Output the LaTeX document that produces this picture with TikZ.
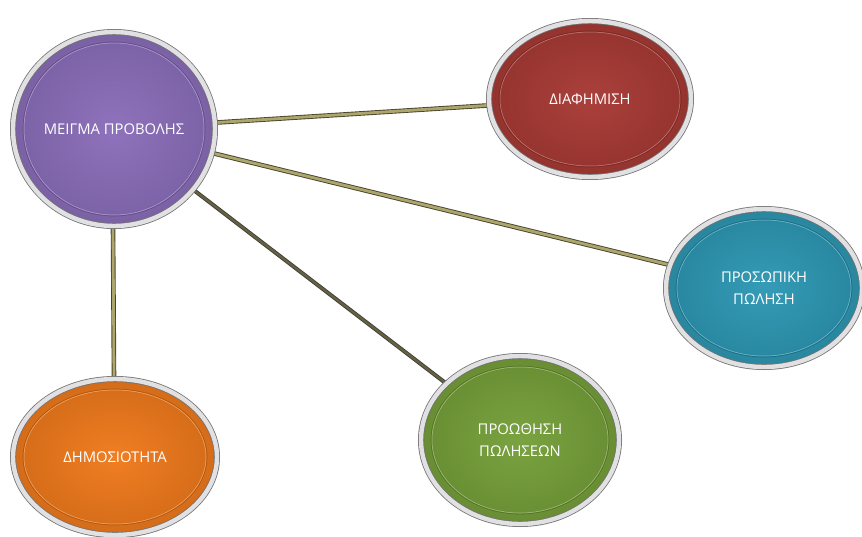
\documentclass[tikz,border=0pt]{standalone}
\usepackage{fontspec}
\setmainfont{Open Sans}
\usetikzlibrary{shapes.geometric,calc,backgrounds}
\definecolor{mixpurple}{RGB}{139,110,186}
\definecolor{adred}{RGB}{168,58,53}
\definecolor{sellblue}{RGB}{46,152,180}
\definecolor{promgreen}{RGB}{118,160,58}
\definecolor{puborange}{RGB}{240,122,28}
\definecolor{linkedge}{RGB}{72,68,42}
\definecolor{linkfill}{RGB}{172,166,110}
\definecolor{rimgray}{RGB}{225,225,228}
\tikzset{
  bubble/.style={ellipse,inner sep=0pt,draw=black!55,line width=0.4pt,double=rimgray,double distance=2.2pt,
    shading=radial,inner color=#1!97!white,outer color=#1!88!black,text=white,align=center,
    path picture={
      \draw[#1!72!black,line width=0.35pt]
        let \p1=(path picture bounding box.south west),\p2=(path picture bounding box.north east) in
        ($(\p1)!.5!(\p2)$) ellipse [x radius={(\x2-\x1)/2-5pt},y radius={(\y2-\y1)/2-5pt}];
      \draw[white!35!#1,line width=0.25pt]
        let \p1=(path picture bounding box.south west),\p2=(path picture bounding box.north east) in
        ($(\p1)!.5!(\p2)$) ellipse [x radius={(\x2-\x1)/2-5.5pt},y radius={(\y2-\y1)/2-5.5pt}];
    }},
  link/.style={draw=linkedge,line width=0.45pt,double=linkfill,double distance=1.4pt}
}
\begin{document}
\begin{tikzpicture}[x=0.5pt,y=-0.5pt,every node/.style={font=\fontsize{7.4}{11}\selectfont}]
\useasboundingbox (0,0) rectangle (862,536);
% Centre and channels
\node[bubble=mixpurple,minimum width=101pt,minimum height=97pt] (mix) at (114,129) {ΜΕΙΓΜΑ ΠΡΟΒΟΛΗΣ};
\node[bubble=adred,minimum width=101pt,minimum height=78pt] (adv) at (590,99) {ΔΙΑΦΗΜΙΣΗ};
\node[bubble=sellblue,minimum width=98pt,minimum height=79pt] (sell) at (764,288) {ΠΡΟΣΩΠΙΚΗ\\ΠΩΛΗΣΗ};
\node[bubble=promgreen,minimum width=99pt,minimum height=84pt] (prom) at (520,440) {ΠΡΟΩΘΗΣΗ\\ΠΩΛΗΣΕΩΝ};
\node[bubble=puborange,minimum width=102pt,minimum height=78pt] (pub) at (115,457) {ΔΗΜΟΣΙΟΤΗΤΑ};
% Connectors behind the bubbles
\begin{scope}[on background layer]
\draw[link] (mix) -- (adv);
\draw[link] (mix) -- (sell);
\draw[link,double=linkedge!70!linkfill,draw=black!75,double distance=1.1pt] (mix) -- (prom);
\draw[link] (mix.south) ++(-1,0) -- ($(pub.north)+(-1,0)$);
\end{scope}
\end{tikzpicture}
\end{document}
